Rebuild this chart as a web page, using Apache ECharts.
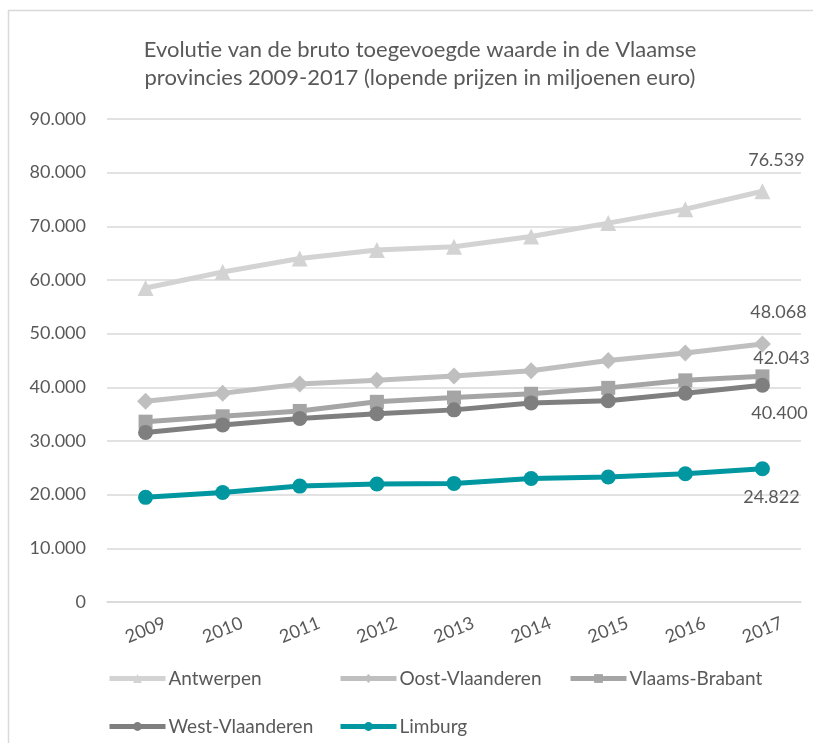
<!DOCTYPE html>
<html>
<head>
<meta charset="utf-8">
<script src="https://cdn.jsdelivr.net/npm/echarts@6/dist/echarts.min.js"></script>
<style>
html,body{margin:0;padding:0;background:#fff;}
#chart{width:813px;height:743px;}
</style>
</head>
<body>
<div id="chart"></div>
<script>
var years = ['2009','2010','2011','2012','2013','2014','2015','2016','2017'];
var seriesNames = ['Antwerpen','Oost-Vlaanderen','Vlaams-Brabant','West-Vlaanderen','Limburg'];
var antwerpen = [58500, 61500, 64000, 65600, 66200, 68100, 70600, 73200, 76539];
var oostVlaanderen = [37400, 38900, 40600, 41300, 42100, 43100, 45000, 46400, 48068];
var vlaamsBrabant = [33600, 34600, 35600, 37300, 38100, 38800, 39900, 41300, 42043];
var westVlaanderen = [31600, 33000, 34200, 35100, 35800, 37100, 37500, 38900, 40400];
var limburg = [19500, 20400, 21600, 22000, 22100, 23000, 23300, 23900, 24822];
var yTicks = {min: 0, max: 90000, interval: 10000};

var FONT = 'Lato, "Open Sans", sans-serif';
var TXT = '#595959';
function fmt(v){ return String(Math.round(v)).replace(/\B(?=(\d{3})+(?!\d))/g, '.'); }

var styles = [
  {color:'#d3d3d3', symbol:'triangle', size:16, off:[14,-31]},
  {color:'#bfbfbf', symbol:'diamond', size:17, off:[16,-32]},
  {color:'#a5a5a5', symbol:'rect', size:14, off:[19,-18]},
  {color:'#7f7f7f', symbol:'circle', size:15, off:[17,28]},
  {color:'#0097a0', symbol:'circle', size:15, off:[9,28]}
];
var values = [antwerpen, oostVlaanderen, vlaamsBrabant, westVlaanderen, limburg];

var series = seriesNames.map(function(name, k){
  var st = styles[k];
  var vals = values[k];
  return {
    name: name,
    type: 'line',
    symbol: st.symbol,
    symbolSize: st.size,
    showAllSymbol: true,
    lineStyle: {color: st.color, width: 5},
    itemStyle: {color: st.color},
    emphasis: {disabled: true},
    data: vals.map(function(v, i){
      if (i === vals.length - 1) {
        return {value: v, label: {show: true, position: 'inside', offset: st.off,
          formatter: function(p){ return fmt(p.value); },
          color: TXT, fontFamily: FONT, fontSize: 18}};
      }
      return v;
    })
  };
});

var legendPos = [[107,669],[338,669],[568,669],[107,717],[338,717]];
var legends = seriesNames.map(function(name, k){
  return {
    data: [name], left: legendPos[k][0], top: legendPos[k][1], padding: 0,
    itemWidth: 56, itemHeight: 11, itemGap: 0,
    lineStyle: {width: 5},
    textStyle: {color: TXT, fontFamily: FONT, fontSize: 19, padding: [0,0,0,-2]},
    selectedMode: false
  };
});

var chart = echarts.init(document.getElementById('chart'));
chart.setOption({
  animation: false,
  backgroundColor: '#fff',
  title: {
    text: 'Evolutie van de bruto toegevoegde waarde in de Vlaamse\nprovincies 2009-2017 (lopende prijzen in miljoenen euro)',
    left: 415, top: 31, textAlign: 'center',
    textStyle: {color: TXT, fontFamily: FONT, fontSize: 22, fontWeight: 'normal', lineHeight: 28}
  },
  graphic: [
    {type:'line', shape:{x1:8, y1:10.5, x2:813, y2:10.5}, style:{stroke:'#d9d9d9', lineWidth:1.5}},
    {type:'line', shape:{x1:8.5, y1:10, x2:8.5, y2:743}, style:{stroke:'#d9d9d9', lineWidth:1.5}}
  ],
  grid: {left: 107, right: 12, top: 119, bottom: 141, containLabel: false},
  xAxis: {
    type: 'category', data: years, boundaryGap: true,
    axisLine: {lineStyle: {color: '#d9d9d9', width: 1.5}},
    axisTick: {show: false},
    axisLabel: {rotate: 22, align: 'center', verticalAlign: 'middle', margin: 28,
      color: TXT, fontFamily: FONT, fontSize: 18, interval: 0}
  },
  yAxis: {
    type: 'value', min: yTicks.min, max: yTicks.max, interval: yTicks.interval,
    axisLine: {show: false}, axisTick: {show: false},
    splitLine: {lineStyle: {color: '#d9d9d9', width: 1.5}},
    axisLabel: {margin: 21, color: TXT, fontFamily: FONT, fontSize: 18,
      formatter: function(v){ return fmt(v); }}
  },
  legend: legends,
  series: series
});
</script>
</body>
</html>
